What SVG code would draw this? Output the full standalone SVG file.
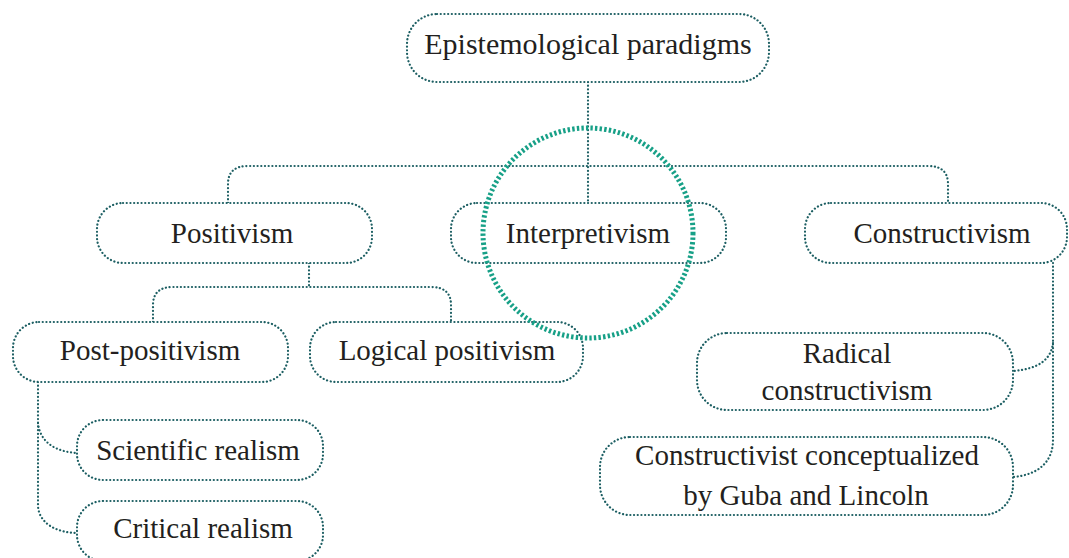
<svg xmlns="http://www.w3.org/2000/svg" width="1069" height="558" viewBox="0 0 1069 558">
<style>
.box{fill:#fff;stroke:#1d5f63;stroke-width:2.2;stroke-dasharray:0.1 3.6;stroke-linecap:round}
.con{fill:none;stroke:#1d5f63;stroke-width:2.2;stroke-dasharray:0.1 3.6;stroke-linecap:round}
.t{font-family:"Liberation Serif","Times New Roman",serif;font-size:29px;fill:#231f20;text-anchor:middle}
.hl{fill:none;stroke:#17a087;stroke-width:5;stroke-dasharray:2.4 2.2}
</style>
<rect width="1069" height="558" fill="#fff"/>
<g id="connectors">
<path class="con" d="M588,82 L588,203"/>
<path class="con" d="M228,203 L228,184 Q228,166 248,166 L928,166 Q948,166 948,184 L948,203"/>
<path class="con" d="M309,263 L309,287"/>
<path class="con" d="M153,322 L153,305 Q153,287 173,287 L431,287 Q451,287 451,305 L451,322"/>
<path class="con" d="M38,382 L38,505 C38,522 55,533 78,533"/>
<path class="con" d="M38,423 C40,442 55,452 78,453"/>
<path class="con" d="M1053,263 L1053,440 C1053,462 1038,475 1013,477"/>
<path class="con" d="M1053,343 C1051,360 1038,369 1013,371"/>
</g>
<g id="n-epistemological">
<rect class="box" x="407" y="14" width="362" height="68" rx="30"/>
<text class="t" x="588" y="54" style="font-size:30px">Epistemological paradigms</text>
</g>
<g id="n-positivism">
<rect class="box" x="97" y="203" width="275" height="60" rx="26"/>
<text class="t" x="232" y="243">Positivism</text>
</g>
<g id="n-interpretivism">
<rect class="box" x="451" y="203" width="275" height="60" rx="26"/>
<text class="t" x="588" y="243">Interpretivism</text>
</g>
<g id="n-constructivism">
<rect class="box" x="805" y="203" width="262" height="60" rx="26"/>
<text class="t" x="942" y="243">Constructivism</text>
</g>
<g id="n-postpositivism">
<rect class="box" x="13" y="322" width="275" height="60" rx="26"/>
<text class="t" x="150" y="360">Post-positivism</text>
</g>
<g id="n-logical">
<rect class="box" x="310" y="322" width="273" height="60" rx="26"/>
<text class="t" x="447" y="360">Logical positivism</text>
</g>
<g id="n-scientific">
<rect class="box" x="77" y="420" width="246" height="60" rx="26"/>
<text class="t" x="198" y="460">Scientific realism</text>
</g>
<g id="n-critical">
<rect class="box" x="77" y="501" width="246" height="60" rx="26"/>
<text class="t" x="203" y="538">Critical realism</text>
</g>
<g id="n-radical">
<rect class="box" x="697" y="333" width="316" height="77" rx="30"/>
<text class="t" x="847" y="363">Radical</text>
<text class="t" x="847" y="400">constructivism</text>
</g>
<g id="n-guba">
<rect class="box" x="600" y="437" width="413" height="78" rx="30"/>
<text class="t" x="807" y="465">Constructivist conceptualized</text>
<text class="t" x="806" y="505">by Guba and Lincoln</text>
</g>
<g id="highlight">
<circle class="hl" cx="588" cy="233" r="105"/>
</g>
</svg>
